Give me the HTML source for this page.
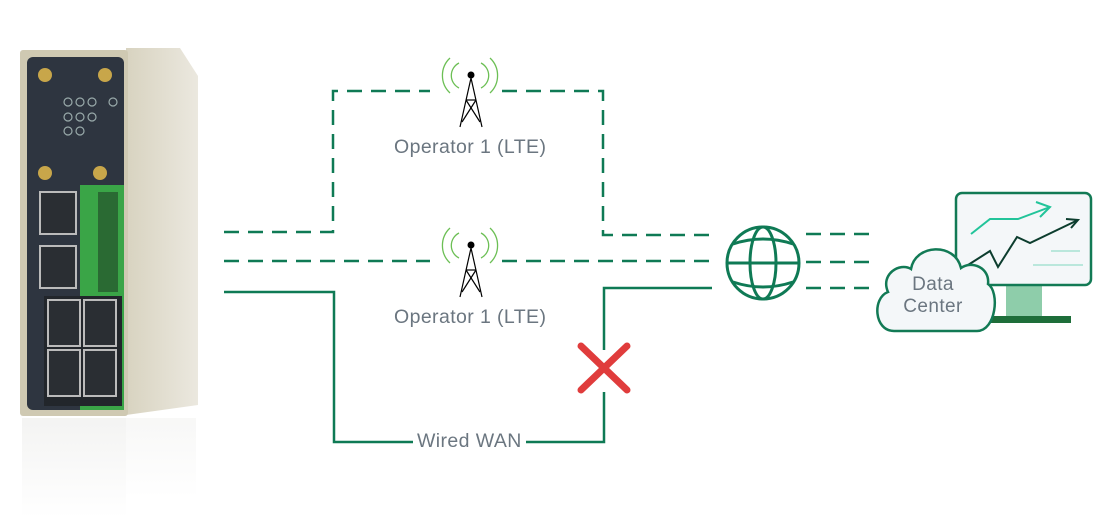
<!DOCTYPE html>
<html><head><meta charset="utf-8"><style>
body{margin:0;width:1120px;height:520px;background:#fff;overflow:hidden;position:relative;font-family:"Liberation Sans",sans-serif}
.lbl{position:absolute;color:#6b7680;font-size:19.5px;letter-spacing:0.4px}
</style></head><body>
<svg width="1120" height="520" style="position:absolute;left:0;top:0">
<defs>
<linearGradient id="side" x1="0" x2="1"><stop offset="0" stop-color="#d8d3c0"/><stop offset="1" stop-color="#ebe8df"/></linearGradient>
<linearGradient id="refl" x1="0" y1="0" x2="0" y2="1"><stop offset="0" stop-color="#ececea"/><stop offset="1" stop-color="#fff"/></linearGradient>
</defs>
<rect x="22" y="418" width="104" height="100" fill="url(#refl)" opacity="0.6"/>
<rect x="126" y="418" width="70" height="80" fill="url(#refl)" opacity="0.4"/>
<polygon points="126,48 180,48 198,76 198,405 126,415" fill="url(#side)"/>
<rect x="20" y="50" width="108" height="366" rx="3" fill="#cfc9b2"/>
<rect x="27" y="57" width="97" height="353" rx="6" fill="#2e3540"/>
<rect x="80" y="185" width="44" height="225" fill="#3aa547"/>
<rect x="98" y="192" width="20" height="100" fill="#2a6a33"/>
<g fill="#c8a64a"><circle cx="45" cy="75" r="7"/><circle cx="105" cy="75" r="7"/><circle cx="45" cy="173" r="7"/><circle cx="100" cy="173" r="7"/></g>
<g fill="none" stroke="#9aa" stroke-width="1.2"><circle cx="68" cy="102" r="4"/><circle cx="80" cy="102" r="4"/><circle cx="92" cy="102" r="4"/><circle cx="113" cy="102" r="4"/><circle cx="68" cy="117" r="4"/><circle cx="80" cy="117" r="4"/><circle cx="92" cy="117" r="4"/><circle cx="68" cy="131" r="4"/><circle cx="80" cy="131" r="4"/></g>
<g fill="#2a2e33" stroke="#bbb" stroke-width="2"><rect x="40" y="192" width="36" height="42"/><rect x="40" y="246" width="36" height="42"/></g>
<rect x="44" y="296" width="78" height="110" fill="#22262b"/>
<g fill="#2a2e33" stroke="#bbb" stroke-width="2"><rect x="48" y="300" width="32" height="46"/><rect x="84" y="300" width="32" height="46"/><rect x="48" y="350" width="32" height="46"/><rect x="84" y="350" width="32" height="46"/></g>
<g stroke="#0f7a55" stroke-width="2.5" fill="none" stroke-dasharray="15,9">
<polyline points="224,232 333,232 333,91 430,91"/>
<polyline points="502,91 603,91 603,235 712,235"/>
<line x1="224" y1="261" x2="430" y2="261"/>
<line x1="502" y1="261" x2="712" y2="261"/>
<line x1="806" y1="234" x2="870" y2="234"/>
<line x1="806" y1="262" x2="870" y2="262"/>
<line x1="806" y1="288" x2="870" y2="288"/>
</g>
<g stroke="#0f7a55" stroke-width="2.5" fill="none">
<polyline points="224,292 334,292 334,442 413,442"/>
<polyline points="526,442 604,442 604,392"/>
<polyline points="604,350 604,288 712,288"/>
</g>
<g stroke="#e03c3c" stroke-width="7" stroke-linecap="round"><line x1="581" y1="346" x2="627" y2="390"/><line x1="627" y1="346" x2="581" y2="390"/></g>
<g id="tw">
<g fill="none" stroke="#6cbf55" stroke-width="1.3">
<path d="M450,58 A24,24 0 0 0 450,93"/><path d="M459,63 A14,14 0 0 0 459,88"/>
<path d="M490,58 A24,24 0 0 1 490,93"/><path d="M481,63 A14,14 0 0 1 481,88"/>
</g>
<circle cx="471" cy="75" r="3.5" fill="#000"/>
<g stroke="#000" stroke-width="1.2" fill="none">
<polyline points="460,127 471,78 482,127"/>
<line x1="466" y1="100" x2="476" y2="100"/>
<polyline points="466,100 480,122"/><polyline points="476,100 462,122"/>
</g>
</g>
<use href="#tw" y="170"/>
<g stroke="#0f7a55" stroke-width="3" fill="none">
<circle cx="763" cy="263" r="36"/>
<ellipse cx="763" cy="263" rx="13" ry="36"/>
<line x1="727" y1="263" x2="799" y2="263"/>
<path d="M733,244 Q763,234 793,244"/><path d="M733,282 Q763,292 793,282"/>
</g>
<rect x="1006" y="285" width="36" height="32" fill="#8ecdaa"/>
<rect x="978" y="316" width="93" height="7" fill="#1e6e3a"/>
<rect x="956" y="193" width="135" height="92" rx="6" fill="#f4f7f9" stroke="#127a55" stroke-width="2.5"/>
<g fill="none" stroke-width="2">
<polyline points="971,234 990,219 1018,219 1050,207" stroke="#22c49a"/>
<polyline points="1036,202 1050,207 1040,217" stroke="#22c49a"/>
<polyline points="968,265 990,251 998,267 1017,237 1030,243 1078,220" stroke="#0c3d2e"/>
<polyline points="1066,219 1078,220 1071,228" stroke="#0c3d2e"/>
<line x1="1051" y1="251" x2="1080" y2="251" stroke="#7fd7c0" stroke-width="1"/>
<line x1="1033" y1="265" x2="1083" y2="265" stroke="#7fd7c0" stroke-width="1"/>
</g>
<path d="M894,331 C874,331 872,298 888,292 C880,274 900,262 911,269 C915,244 955,242 961,268 C972,260 990,268 988,284 C1000,292 996,331 977,331 Z" fill="#f4f7f9" stroke="#127a55" stroke-width="2.5"/>
</svg>
<div class="lbl" style="left:394px;top:136px">Operator 1 (LTE)</div>
<div class="lbl" style="left:394px;top:306px">Operator 1 (LTE)</div>
<div class="lbl" style="left:417px;top:430px">Wired WAN</div>
<div class="lbl" style="left:902px;top:274px;line-height:22px;text-align:center;width:62px;font-size:19px">Data<br>Center</div>
</body></html>
